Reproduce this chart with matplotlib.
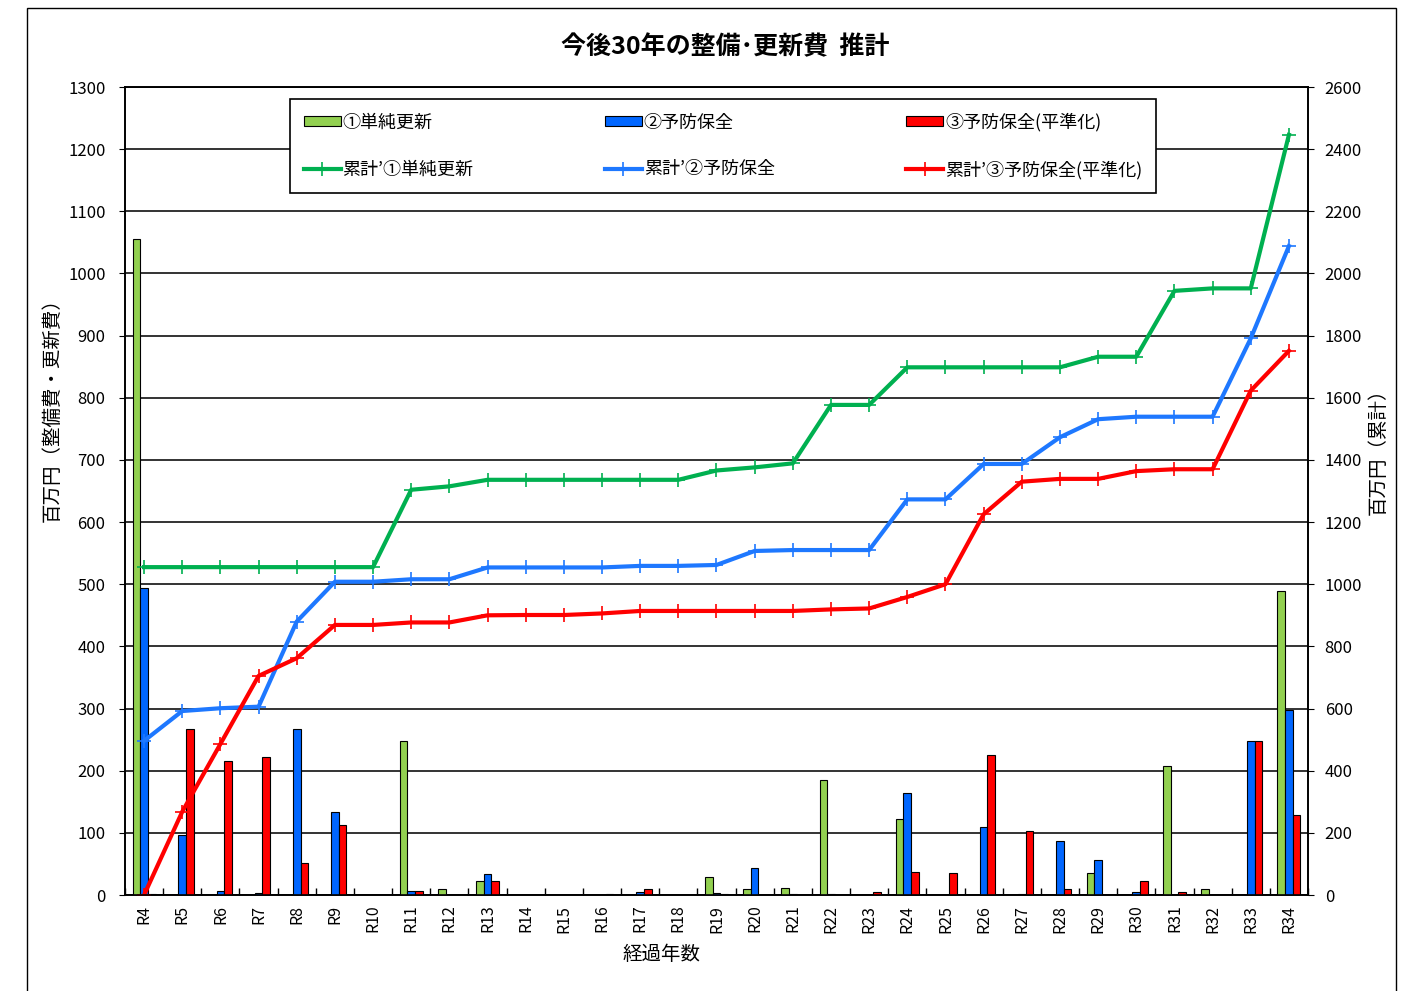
import numpy as np
import matplotlib.pyplot as plt
from matplotlib.patches import Rectangle

plt.rcParams['font.family'] = ['Noto Sans CJK JP', 'DejaVu Sans']

# categories (elapsed years)
years = ['R%d' % i for i in range(4, 35)]

# yearly cost (million yen), left axis
simple_renew = [1055, 0, 0, 0, 0, 0, 0, 248, 10, 23, 0, 0, 0, 0, 0, 29, 10, 12,
                185, 0, 123, 0, 0, 0, 0, 35, 0, 208, 9, 0, 489]
preventive = [494, 97, 7, 3, 267, 134, 0, 7, 0, 34, 0, 0, 0, 5, 0, 3, 44, 1,
              1, 0, 164, 0, 109, 1, 87, 57, 5, 0, 0, 248, 298]
preventive_lev = [2, 267, 216, 222, 51, 113, 0, 7, 0, 23, 0, 0, 1, 10, 0, 1, 0, 0,
                  0, 5, 37, 35, 225, 103, 9, 0, 22, 5, 0, 248, 129]

# cumulative totals (million yen), right axis
cum_simple = [1055, 1055, 1055, 1055, 1055, 1055, 1055, 1304, 1315, 1336, 1336,
              1336, 1336, 1336, 1336, 1366, 1376, 1389, 1577, 1577, 1698, 1698,
              1698, 1698, 1698, 1732, 1732, 1944, 1952, 1952, 2446]
cum_prev = [496, 592, 601, 606, 880, 1008, 1008, 1016, 1016, 1054, 1054, 1054,
            1054, 1059, 1059, 1062, 1107, 1110, 1110, 1110, 1273, 1273, 1387,
            1387, 1473, 1531, 1539, 1539, 1539, 1791, 2088]
cum_lev = [0, 268, 486, 705, 762, 869, 869, 877, 877, 900, 901, 901, 906, 914,
           914, 914, 914, 914, 919, 922, 959, 1000, 1225, 1330, 1339, 1339, 1364,
           1370, 1370, 1623, 1751]

bar_green = '#92D050'
bar_blue = '#0066FF'
bar_red = '#FF0000'
line_green = '#00B050'
line_blue = '#1E78FF'
line_red = '#FF0000'

W, H = 1415, 991
fig = plt.figure(figsize=(W / 100, H / 100), dpi=100)
fig.patches.append(Rectangle((27 / W, -0.01), (1396 - 27) / W, 0.992 + 0.01,
                             transform=fig.transFigure, fill=False,
                             edgecolor='black', linewidth=1))

ax = fig.add_axes([125 / W, 1 - 895 / H, (1308 - 125) / W, (895 - 87) / H])
ax2 = ax.twinx()

x = np.arange(len(years))
w = 0.2
b1 = ax.bar(x - w, simple_renew, w, color=bar_green, edgecolor='black', linewidth=0.8,
            label='①単純更新', zorder=3)
b2 = ax.bar(x, preventive, w, color=bar_blue, edgecolor='black', linewidth=0.8,
            label='②予防保全', zorder=3)
b3 = ax.bar(x + w, preventive_lev, w, color=bar_red, edgecolor='black', linewidth=0.8,
            label='③予防保全(平準化)', zorder=3)

l1, = ax2.plot(x, cum_simple, color=line_green, lw=3, marker='+', ms=10, mew=1.2,
               label='累計’①単純更新')
l2, = ax2.plot(x, cum_prev, color=line_blue, lw=3, marker='+', ms=10, mew=1.2,
               label='累計’②予防保全')
l3, = ax2.plot(x, cum_lev, color=line_red, lw=3, marker='+', ms=10, mew=1.2,
               label='累計’③予防保全(平準化)')

ax.set_xlim(-0.5, len(years) - 0.5)
ax.set_ylim(0, 1300)
ax.set_yticks(np.arange(0, 1301, 100))
ax2.set_ylim(0, 2600)
ax2.set_yticks(np.arange(0, 2601, 200))

ax.yaxis.grid(True, color='#333333', linewidth=1.4, zorder=0)
ax.set_axisbelow(True)

ax.set_xticks(x)
ax.set_xticklabels(years, rotation=90, fontsize=11.5)
ax.set_xticks(np.arange(-0.5, len(years), 1), minor=True)
ax.tick_params(axis='x', which='major', length=0, pad=7)
ax.tick_params(axis='x', which='minor', direction='in', length=5, width=1)
ax.tick_params(axis='y', labelsize=12, length=4, pad=10)
ax2.tick_params(axis='y', labelsize=12, length=4, pad=8)

for a in (ax, ax2):
    for s in a.spines.values():
        s.set_linewidth(1.2)
        s.set_color('black')

ax.set_ylabel('百万円（整備費・更新費）', fontsize=14)
ax.yaxis.set_label_coords((52 - 125) / (1308 - 125), (895 - 405) / (895 - 87))
ax2.set_ylabel('百万円（累計）', fontsize=14)
ax2.yaxis.set_label_coords((1378 - 125) / (1308 - 125), (895 - 447) / (895 - 87))
ax.set_xlabel('経過年数', fontsize=14)
ax.xaxis.set_label_coords((662 - 125) / (1308 - 125), -(955 - 895) / (895 - 87))
ax.xaxis.label.set_va('center')
ax.yaxis.label.set_va('center')
ax2.yaxis.label.set_va('center')

fig.text(725 / W, 1 - 47 / H, '今後30年の整備･更新費  推計', ha='center', va='center',
         fontsize=18, fontweight='bold')

handles = [b1, l1, b2, l2, b3, l3]
labels = [h.get_label() for h in handles]
leg = fig.legend(handles, labels, ncol=3, mode='expand',
                 bbox_to_anchor=(281 / W, 1 - 199 / H, (1165 - 281) / W, (199 - 93) / H),
                 loc='center', fontsize=13, frameon=True, fancybox=False,
                 edgecolor='black', framealpha=1, borderpad=0.75, labelspacing=1.6,
                 handlelength=2.05, handleheight=0.5, handletextpad=0.1)
leg.get_frame().set_linewidth(1.2)

fig.savefig('out.png', dpi=100)
